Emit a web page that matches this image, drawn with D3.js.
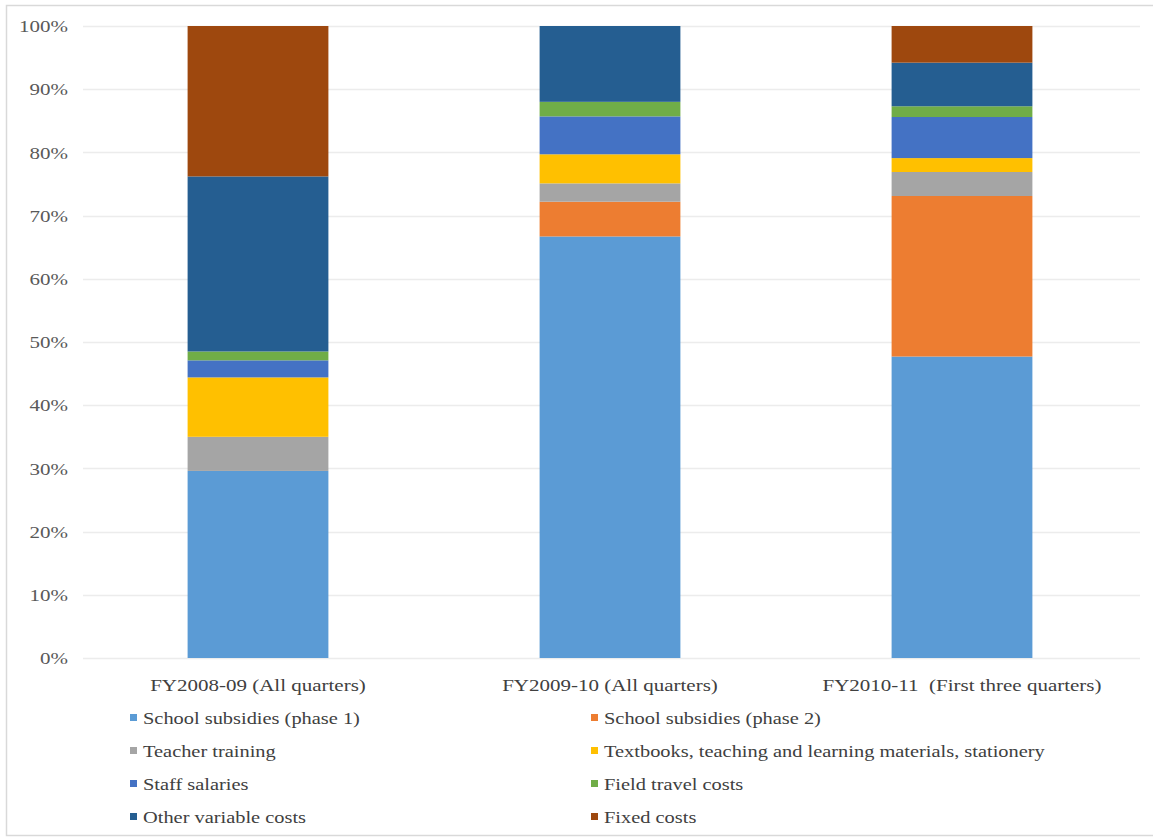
<!DOCTYPE html>
<html>
<head>
<meta charset="utf-8">
<script src="https://cdn.jsdelivr.net/npm/d3@7"></script>
<style>
  body { margin: 0; background: #fff; }
</style>
</head>
<body>
<script>
// categories and series (percent of expenditure)
var periods = ["FY2008-09 (All quarters)", "FY2009-10 (All quarters)", "FY2010-11  (First three quarters)"];
var components = ["School subsidies (phase 1)", "School subsidies (phase 2)", "Teacher training",
	"Textbooks, teaching and learning materials, stationery", "Staff salaries", "Field travel costs",
	"Other variable costs", "Fixed costs"];
var colors = ["#5B9BD5", "#ED7D31", "#A5A5A5", "#FFC000", "#4472C4", "#70AD47", "#255E91", "#9E480E"];

var phase1 = [29.6, 66.7, 47.7];
var phase2 = [0, 5.5, 25.4];
var teacher = [5.4, 2.9, 3.8];
var textbooks = [9.4, 4.6, 2.2];
var staff = [2.7, 6.0, 6.5];
var travel = [1.4, 2.3, 1.7];
var otherVar = [27.7, 12.0, 6.9];
var fixed = [23.8, 0, 5.8];
var tickValues = [0, 10, 20, 30, 40, 50, 60, 70, 80, 90, 100];

var series = [phase1, phase2, teacher, textbooks, staff, travel, otherVar, fixed];
var serif = "'Liberation Serif', 'Times New Roman', Times, serif";
var stretch = 1.2; // the source text is a bit wide

var rows = periods.map(function (p, i) {
	var r = { period: p };
	components.forEach(function (c, k) { r[c] = series[k][i]; });
	return r;
});

var W = 1153, H = 838;

var svg = d3.select("body").append("svg").attr("width", W).attr("height", H);

// frame
svg.append("rect")
	.attr("x", 6.5).attr("y", 5.5)
	.attr("width", W + 10).attr("height", 830)
	.attr("fill", "none").attr("stroke", "#d9d9d9").attr("stroke-width", 1.5);

var x = d3.scaleBand().domain(periods).range([82, 1138]).paddingInner(0.6).paddingOuter(0.3);
var y = d3.scaleLinear().domain([0, 100]).range([658, 26]);

// gridlines
svg.append("g").selectAll("line").data(tickValues).enter().append("line")
	.attr("x1", 83).attr("x2", 1140)
	.attr("y1", function (d) { return Math.round(y(d)) + 0.5; })
	.attr("y2", function (d) { return Math.round(y(d)) + 0.5; })
	.attr("stroke", "#ececec").attr("stroke-width", 1.5);

var yAxis = svg.append("g")
	.attr("transform", "translate(68,0)")
	.call(d3.axisLeft(y).tickValues(tickValues).tickSize(0).tickPadding(0).tickFormat(function (d) { return d + "%"; }));
yAxis.select(".domain").remove();
yAxis.selectAll("text")
	.attr("x", 0)
	.attr("transform", "scale(" + stretch + ",1)")
	.style("font-family", serif).style("font-size", "17.5px")
	.attr("fill", "#595959");

var stack = d3.stack().keys(components);
var layers = stack(rows);

svg.append("g").selectAll("g").data(layers).enter().append("g")
	.attr("fill", function (d, i) { return colors[i]; })
	.selectAll("rect").data(function (d) { return d; }).enter().append("rect")
	.attr("x", function (d) { return x(d.data.period); })
	.attr("width", x.bandwidth())
	.attr("y", function (d) { return y(d[1]); })
	.attr("height", function (d) { return y(d[0]) - y(d[1]); });

// category labels
svg.append("g").selectAll("text").data(periods).enter().append("text")
	.attr("transform", function (d) {
		return "translate(" + (x(d) + x.bandwidth() / 2) + ",691) scale(" + stretch + ",1)";
	})
	.attr("text-anchor", "middle")
	.attr("fill", "#404040")
	.style("font-family", serif).style("font-size", "17.5px")
	.style("white-space", "pre")
	.text(function (d) { return d; });

// legend, two columns
var legend = svg.append("g").selectAll("g").data(components).enter().append("g")
	.attr("transform", function (d, i) {
		var col = i % 2, row = Math.floor(i / 2);
		return "translate(" + (col === 0 ? 130 : 591) + "," + (718 + row * 33) + ")";
	});

legend.append("rect")
	.attr("x", 0).attr("y", -4).attr("width", 7).attr("height", 7)
	.attr("fill", function (d, i) { return colors[i]; });

legend.append("text")
	.attr("transform", "translate(13,6) scale(" + stretch + ",1)")
	.attr("fill", "#404040")
	.style("font-family", serif).style("font-size", "17px")
	.text(function (d) { return d; });
</script>
</body>
</html>
